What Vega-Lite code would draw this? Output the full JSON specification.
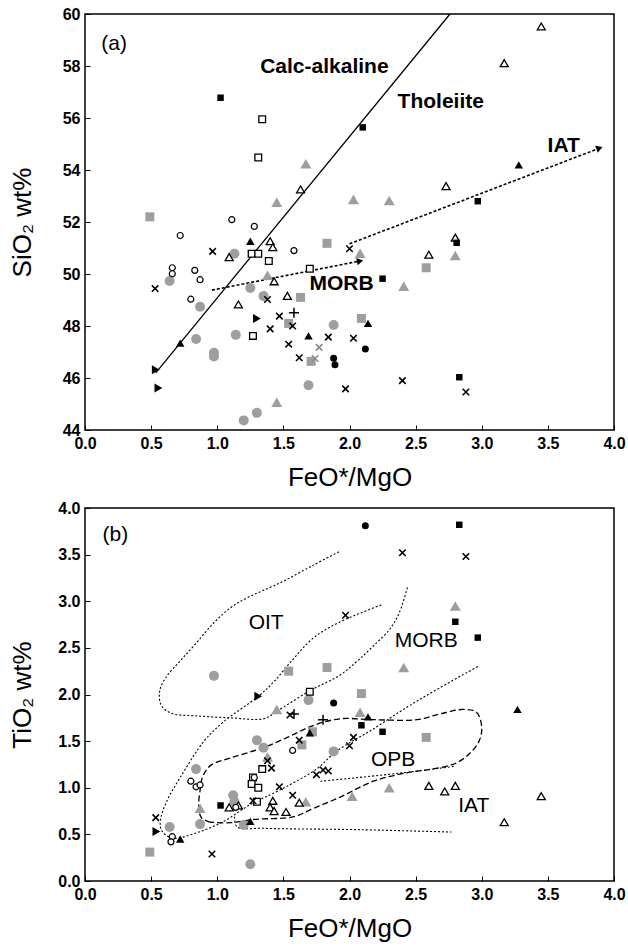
{
  "$schema": "https://vega.github.io/schema/vega-lite/v6.json",
  "background": "white",
  "padding": {"left": 8, "top": 5, "right": 3, "bottom": 5},
  "spacing": 78,
  "bounds": "flush",
  "config": {
    "view": {"stroke": "black", "strokeWidth": 1.5},
    "font": "Liberation Sans",
    "axis": {
      "domain": false, "grid": false, "tickColor": "black", "tickSize": -5, "tickWidth": 1,
      "labelFont": "Liberation Sans", "labelFontWeight": "bold", "labelFontSize": 16, "labelColor": "black",
      "labelPadding": 10, "labelFlush": false, "labelOverlap": false,
      "titleFont": "Liberation Sans", "titleFontSize": 26, "titleFontWeight": "normal", "titleColor": "black"
    },
    "axisY": {"titleX": -63, "titleBaseline": "middle"},
    "axisX": {"titlePadding": 13}
  },
  "datasets": {
    "pa": [
      {"x":0.49,"y":52.2,"t":"sq_g"},{"x":1.83,"y":51.18,"t":"sq_g"},{"x":1.63,"y":49.10,"t":"sq_g"},{"x":1.54,"y":48.10,"t":"sq_g"},{"x":1.71,"y":46.64,"t":"sq_g"},{"x":2.58,"y":50.24,"t":"sq_g"},{"x":2.09,"y":48.29,"t":"sq_g"},
      {"x":1.025,"y":56.78,"t":"sq_b"},{"x":2.10,"y":55.64,"t":"sq_b"},{"x":2.97,"y":52.80,"t":"sq_b"},{"x":2.25,"y":49.82,"t":"sq_b"},{"x":2.83,"y":46.03,"t":"sq_b"},{"x":2.81,"y":51.2,"t":"sq_b"},
      {"x":1.34,"y":55.95,"t":"sq_o"},{"x":1.31,"y":54.48,"t":"sq_o"},{"x":1.26,"y":50.78,"t":"sq_o"},{"x":1.31,"y":50.78,"t":"sq_o"},{"x":1.39,"y":50.50,"t":"sq_o"},{"x":1.70,"y":50.20,"t":"sq_o"},{"x":1.27,"y":47.62,"t":"sq_o"},
      {"x":1.67,"y":54.24,"t":"tri_g"},{"x":1.45,"y":52.76,"t":"tri_g"},{"x":1.38,"y":49.95,"t":"tri_g"},{"x":1.45,"y":45.07,"t":"tri_g"},{"x":2.03,"y":52.87,"t":"tri_g"},{"x":2.30,"y":52.83,"t":"tri_g"},{"x":2.08,"y":50.80,"t":"tri_g"},{"x":2.41,"y":49.53,"t":"tri_g"},{"x":2.80,"y":50.71,"t":"tri_g"},
      {"x":1.25,"y":51.26,"t":"tri_b"},{"x":0.72,"y":47.34,"t":"tri_b"},{"x":1.69,"y":47.62,"t":"tri_b"},{"x":2.14,"y":48.10,"t":"tri_b"},{"x":3.28,"y":54.2,"t":"tri_b"},
      {"x":1.40,"y":51.26,"t":"tri_o"},{"x":1.42,"y":51.03,"t":"tri_o"},{"x":1.09,"y":50.65,"t":"tri_o"},{"x":1.43,"y":49.72,"t":"tri_o"},{"x":1.53,"y":49.16,"t":"tri_o"},{"x":1.16,"y":48.83,"t":"tri_o"},{"x":1.63,"y":53.25,"t":"tri_o"},{"x":3.45,"y":59.52,"t":"tri_o"},{"x":3.17,"y":58.11,"t":"tri_o"},{"x":2.73,"y":53.38,"t":"tri_o"},{"x":2.60,"y":50.74,"t":"tri_o"},{"x":2.80,"y":51.4,"t":"tri_o"},
      {"x":1.11,"y":52.09,"t":"cir_o"},{"x":1.28,"y":51.83,"t":"cir_o"},{"x":0.72,"y":51.48,"t":"cir_o"},{"x":1.58,"y":50.90,"t":"cir_o"},{"x":0.66,"y":50.24,"t":"cir_o"},{"x":0.66,"y":50.01,"t":"cir_o"},{"x":0.83,"y":50.14,"t":"cir_o"},{"x":0.87,"y":49.78,"t":"cir_o"},{"x":0.80,"y":49.03,"t":"cir_o"},
      {"x":1.13,"y":50.78,"t":"cir_g"},{"x":0.64,"y":49.73,"t":"cir_g"},{"x":1.25,"y":49.46,"t":"cir_g"},{"x":1.35,"y":49.15,"t":"cir_g"},{"x":0.87,"y":48.74,"t":"cir_g"},{"x":1.88,"y":48.04,"t":"cir_g"},{"x":0.84,"y":47.50,"t":"cir_g"},{"x":1.14,"y":47.66,"t":"cir_g"},{"x":0.975,"y":46.97,"t":"cir_g"},{"x":0.975,"y":46.83,"t":"cir_g"},{"x":1.69,"y":45.72,"t":"cir_g"},{"x":1.30,"y":44.66,"t":"cir_g"},{"x":1.20,"y":44.37,"t":"cir_g"},
      {"x":1.88,"y":46.76,"t":"cir_b"},{"x":1.89,"y":46.51,"t":"cir_b"},{"x":2.12,"y":47.12,"t":"cir_b"},
      {"x":0.965,"y":50.87,"t":"x"},{"x":0.53,"y":49.44,"t":"x"},{"x":1.38,"y":49.02,"t":"x"},{"x":1.47,"y":48.38,"t":"x"},{"x":1.57,"y":48.0,"t":"x"},{"x":1.40,"y":47.89,"t":"x"},{"x":1.84,"y":47.57,"t":"x"},{"x":1.54,"y":47.30,"t":"x"},{"x":1.62,"y":46.78,"t":"x"},{"x":2.0,"y":50.97,"t":"x"},{"x":2.03,"y":47.53,"t":"x"},{"x":1.97,"y":45.58,"t":"x"},{"x":2.40,"y":45.90,"t":"x"},{"x":2.88,"y":45.46,"t":"x"},
      {"x":1.77,"y":47.18,"t":"x_g"},{"x":1.74,"y":46.75,"t":"x_g"},
      {"x":1.58,"y":48.51,"t":"plus"},
      {"x":1.30,"y":48.29,"t":"rtri"},{"x":0.535,"y":46.32,"t":"rtri"},{"x":0.555,"y":45.62,"t":"rtri"}
    ],
    "pb": [
      {"x":0.49,"y":0.31,"t":"sq_g"},{"x":1.54,"y":2.25,"t":"sq_g"},{"x":1.83,"y":2.29,"t":"sq_g"},{"x":1.72,"y":1.60,"t":"sq_g"},{"x":1.64,"y":1.46,"t":"sq_g"},{"x":2.09,"y":2.01,"t":"sq_g"},{"x":2.58,"y":1.54,"t":"sq_g"},
      {"x":2.83,"y":3.82,"t":"sq_b"},{"x":2.80,"y":2.78,"t":"sq_b"},{"x":2.97,"y":2.61,"t":"sq_b"},{"x":2.09,"y":1.67,"t":"sq_b"},{"x":2.25,"y":1.60,"t":"sq_b"},{"x":1.025,"y":0.81,"t":"sq_b"},
      {"x":1.70,"y":2.03,"t":"sq_o"},{"x":1.34,"y":1.20,"t":"sq_o"},{"x":1.27,"y":1.11,"t":"sq_o"},{"x":1.26,"y":1.04,"t":"sq_o"},{"x":1.31,"y":1.0,"t":"sq_o"},{"x":1.30,"y":0.85,"t":"sq_o"},
      {"x":2.80,"y":2.95,"t":"tri_g"},{"x":2.41,"y":2.29,"t":"tri_g"},{"x":1.45,"y":1.84,"t":"tri_g"},{"x":1.38,"y":1.33,"t":"tri_g"},{"x":1.67,"y":0.85,"t":"tri_g"},{"x":0.87,"y":0.78,"t":"tri_g"},{"x":2.08,"y":1.81,"t":"tri_g"},{"x":2.02,"y":0.91,"t":"tri_g"},{"x":2.30,"y":1.0,"t":"tri_g"},
      {"x":1.70,"y":1.59,"t":"tri_b"},{"x":1.25,"y":0.64,"t":"tri_b"},{"x":0.72,"y":0.45,"t":"tri_b"},{"x":2.14,"y":1.76,"t":"tri_b"},{"x":3.27,"y":1.84,"t":"tri_b"},
      {"x":1.62,"y":0.84,"t":"tri_o"},{"x":1.42,"y":0.86,"t":"tri_o"},{"x":1.40,"y":0.79,"t":"tri_o"},{"x":1.43,"y":0.75,"t":"tri_o"},{"x":1.52,"y":0.74,"t":"tri_o"},{"x":1.09,"y":0.79,"t":"tri_o"},{"x":1.16,"y":0.81,"t":"tri_o"},{"x":2.60,"y":1.02,"t":"tri_o"},{"x":2.72,"y":0.96,"t":"tri_o"},{"x":2.80,"y":1.02,"t":"tri_o"},{"x":3.17,"y":0.63,"t":"tri_o"},{"x":3.45,"y":0.91,"t":"tri_o"},
      {"x":1.57,"y":1.40,"t":"cir_o"},{"x":0.80,"y":1.07,"t":"cir_o"},{"x":0.84,"y":1.01,"t":"cir_o"},{"x":0.87,"y":1.03,"t":"cir_o"},{"x":1.28,"y":1.11,"t":"cir_o"},{"x":1.14,"y":0.79,"t":"cir_o"},{"x":0.66,"y":0.475,"t":"cir_o"},{"x":0.65,"y":0.42,"t":"cir_o"},
      {"x":0.975,"y":2.20,"t":"cir_g"},{"x":1.69,"y":1.94,"t":"cir_g"},{"x":1.88,"y":1.39,"t":"cir_g"},{"x":1.30,"y":1.51,"t":"cir_g"},{"x":1.35,"y":1.43,"t":"cir_g"},{"x":0.84,"y":1.20,"t":"cir_g"},{"x":1.12,"y":0.92,"t":"cir_g"},{"x":1.13,"y":0.85,"t":"cir_g"},{"x":0.87,"y":0.61,"t":"cir_g"},{"x":1.20,"y":0.60,"t":"cir_g"},{"x":0.64,"y":0.58,"t":"cir_g"},{"x":1.25,"y":0.18,"t":"cir_g"},
      {"x":2.12,"y":3.81,"t":"cir_b"},{"x":1.88,"y":1.91,"t":"cir_b"},
      {"x":2.40,"y":3.52,"t":"x"},{"x":2.88,"y":3.48,"t":"x"},{"x":1.97,"y":2.85,"t":"x"},{"x":1.55,"y":1.78,"t":"x"},{"x":1.62,"y":1.51,"t":"x"},{"x":1.38,"y":1.29,"t":"x"},{"x":1.41,"y":1.21,"t":"x"},{"x":1.75,"y":1.14,"t":"x"},{"x":1.80,"y":1.19,"t":"x"},{"x":1.84,"y":1.18,"t":"x"},{"x":1.47,"y":1.01,"t":"x"},{"x":1.57,"y":0.92,"t":"x"},{"x":1.27,"y":0.86,"t":"x"},{"x":0.535,"y":0.68,"t":"x"},{"x":0.96,"y":0.29,"t":"x"},{"x":2.03,"y":1.54,"t":"x"},{"x":2.0,"y":1.45,"t":"x"},
      {"x":1.58,"y":1.79,"t":"plus"},{"x":1.80,"y":1.73,"t":"plus"},
      {"x":1.31,"y":1.98,"t":"rtri"},{"x":0.54,"y":0.53,"t":"rtri"}
    ],
    "la": [
      {"c":"calc","o":1,"x":0.535,"y":46.2},{"c":"calc","o":2,"x":2.76,"y":60},
      {"c":"morb","o":1,"x":0.96,"y":49.38},{"c":"morb","o":2,"x":2.06,"y":50.48},
      {"c":"iat","o":1,"x":2.0,"y":51.16},{"c":"iat","o":2,"x":3.87,"y":54.8}
    ],
    "arr": [
      {"c":"morb","x":2.08,"y":50.5},
      {"c":"iat","x":3.89,"y":54.84}
    ],
    "ta": [
      {"x":0.22,"y":58.84,"label":"(a)"},
      {"x":1.81,"y":57.95,"label":"Calc-alkaline"},
      {"x":2.69,"y":56.62,"label":"Tholeiite"},
      {"x":3.62,"y":54.93,"label":"IAT"},
      {"x":1.94,"y":49.63,"label":"MORB"}
    ],
    "tb": [
      {"x":0.23,"y":3.71,"label":"(b)"},
      {"x":1.37,"y":2.77,"label":"OIT"},
      {"x":2.58,"y":2.57,"label":"MORB"},
      {"x":2.33,"y":1.30,"label":"OPB"},
      {"x":2.94,"y":0.80,"label":"IAT"}
    ],
    "lb": [
      {"c":"OIT","s":"dot","o":1,"x":1.92,"y":3.53},{"c":"OIT","s":"dot","o":2,"x":1.73,"y":3.39},{"c":"OIT","s":"dot","o":3,"x":1.48,"y":3.20},{"c":"OIT","s":"dot","o":4,"x":1.23,"y":3.04},{"c":"OIT","s":"dot","o":5,"x":1.10,"y":2.93},{"c":"OIT","s":"dot","o":6,"x":0.975,"y":2.77},{"c":"OIT","s":"dot","o":7,"x":0.84,"y":2.55},{"c":"OIT","s":"dot","o":8,"x":0.72,"y":2.36},{"c":"OIT","s":"dot","o":9,"x":0.61,"y":2.18},{"c":"OIT","s":"dot","o":10,"x":0.565,"y":2.04},{"c":"OIT","s":"dot","o":11,"x":0.575,"y":1.89},{"c":"OIT","s":"dot","o":12,"x":0.65,"y":1.80},{"c":"OIT","s":"dot","o":13,"x":0.85,"y":1.77},{"c":"OIT","s":"dot","o":14,"x":1.10,"y":1.75},{"c":"OIT","s":"dot","o":15,"x":1.35,"y":1.74},{"c":"OIT","s":"dot","o":16,"x":1.45,"y":1.82},{"c":"OIT","s":"dot","o":17,"x":1.70,"y":2.04},{"c":"OIT","s":"dot","o":18,"x":1.93,"y":2.21},{"c":"OIT","s":"dot","o":19,"x":2.06,"y":2.36},{"c":"OIT","s":"dot","o":20,"x":2.18,"y":2.52},{"c":"OIT","s":"dot","o":21,"x":2.31,"y":2.71},{"c":"OIT","s":"dot","o":22,"x":2.38,"y":2.89},{"c":"OIT","s":"dot","o":23,"x":2.44,"y":3.16},
      {"c":"MORB","s":"dot","o":1,"x":2.24,"y":2.96},{"c":"MORB","s":"dot","o":2,"x":1.93,"y":2.78},{"c":"MORB","s":"dot","o":3,"x":1.73,"y":2.61},{"c":"MORB","s":"dot","o":4,"x":1.58,"y":2.39},{"c":"MORB","s":"dot","o":5,"x":1.43,"y":2.14},{"c":"MORB","s":"dot","o":6,"x":1.31,"y":1.98},{"c":"MORB","s":"dot","o":7,"x":1.05,"y":1.71},{"c":"MORB","s":"dot","o":8,"x":0.90,"y":1.50},{"c":"MORB","s":"dot","o":9,"x":0.72,"y":1.11},{"c":"MORB","s":"dot","o":10,"x":0.62,"y":0.86},{"c":"MORB","s":"dot","o":11,"x":0.57,"y":0.65},{"c":"MORB","s":"dot","o":12,"x":0.58,"y":0.54},{"c":"MORB","s":"dot","o":13,"x":0.66,"y":0.46},{"c":"MORB","s":"dot","o":14,"x":0.85,"y":0.52},{"c":"MORB","s":"dot","o":15,"x":1.05,"y":0.64},{"c":"MORB","s":"dot","o":16,"x":1.25,"y":0.82},{"c":"MORB","s":"dot","o":17,"x":1.48,"y":0.98},{"c":"MORB","s":"dot","o":18,"x":1.75,"y":1.20},{"c":"MORB","s":"dot","o":19,"x":1.90,"y":1.39},{"c":"MORB","s":"dot","o":20,"x":2.18,"y":1.63},{"c":"MORB","s":"dot","o":21,"x":2.43,"y":1.86},{"c":"MORB","s":"dot","o":22,"x":2.68,"y":2.07},{"c":"MORB","s":"dot","o":23,"x":2.97,"y":2.30},
      {"c":"IATu","s":"dot","o":1,"x":1.78,"y":1.07},{"c":"IATu","s":"dot","o":2,"x":1.93,"y":1.09},{"c":"IATu","s":"dot","o":3,"x":2.40,"y":1.16},{"c":"IATu","s":"dot","o":4,"x":2.80,"y":1.23},
      {"c":"IATl","s":"dot","o":1,"x":1.13,"y":0.69},{"c":"IATl","s":"dot","o":2,"x":1.15,"y":0.58},{"c":"IATl","s":"dot","o":3,"x":1.35,"y":0.565},{"c":"IATl","s":"dot","o":4,"x":2.08,"y":0.55},{"c":"IATl","s":"dot","o":5,"x":2.77,"y":0.525},
      {"c":"OPB","s":"dash","o":1,"x":0.95,"y":0.63},{"c":"OPB","s":"dash","o":2,"x":0.88,"y":0.68},{"c":"OPB","s":"dash","o":3,"x":0.86,"y":0.80},{"c":"OPB","s":"dash","o":4,"x":0.87,"y":0.97},{"c":"OPB","s":"dash","o":5,"x":0.89,"y":1.12},{"c":"OPB","s":"dash","o":6,"x":0.95,"y":1.24},{"c":"OPB","s":"dash","o":7,"x":1.10,"y":1.32},{"c":"OPB","s":"dash","o":8,"x":1.33,"y":1.42},{"c":"OPB","s":"dash","o":9,"x":1.53,"y":1.54},{"c":"OPB","s":"dash","o":10,"x":1.73,"y":1.67},{"c":"OPB","s":"dash","o":11,"x":1.93,"y":1.74},{"c":"OPB","s":"dash","o":12,"x":2.18,"y":1.73},{"c":"OPB","s":"dash","o":13,"x":2.51,"y":1.73},{"c":"OPB","s":"dash","o":14,"x":2.68,"y":1.79},{"c":"OPB","s":"dash","o":15,"x":2.86,"y":1.84},{"c":"OPB","s":"dash","o":16,"x":2.96,"y":1.81},{"c":"OPB","s":"dash","o":17,"x":3.0,"y":1.65},{"c":"OPB","s":"dash","o":18,"x":2.98,"y":1.50},{"c":"OPB","s":"dash","o":19,"x":2.91,"y":1.37},{"c":"OPB","s":"dash","o":20,"x":2.80,"y":1.26},{"c":"OPB","s":"dash","o":21,"x":2.62,"y":1.20},{"c":"OPB","s":"dash","o":22,"x":2.43,"y":1.16},{"c":"OPB","s":"dash","o":23,"x":2.18,"y":1.07},{"c":"OPB","s":"dash","o":24,"x":1.93,"y":0.90},{"c":"OPB","s":"dash","o":25,"x":1.73,"y":0.78},{"c":"OPB","s":"dash","o":26,"x":1.58,"y":0.69},{"c":"OPB","s":"dash","o":27,"x":1.28,"y":0.66},{"c":"OPB","s":"dash","o":28,"x":1.10,"y":0.625},{"c":"OPB","s":"dash","o":29,"x":0.95,"y":0.63}
    ]
  },
  "vconcat": [
    {
      "width": 529, "height": 416,
      "encoding": {
        "x": {"field": "x", "type": "quantitative", "scale": {"domain": [0, 4], "nice": false},
              "axis": {"values": [0,0.5,1,1.5,2,2.5,3,3.5,4], "format": ".1f", "title": "FeO*/MgO"}},
        "y": {"field": "y", "type": "quantitative", "scale": {"domain": [44, 60], "nice": false, "zero": false},
              "axis": {"values": [44,46,48,50,52,54,56,58,60], "format": "d", "title": "SiO₂ wt%"}}
      },
      "layer": [
        {"data": {"name": "la"}, "transform": [{"filter": "datum.c == 'calc'"}], "mark": {"type": "line", "color": "black", "strokeWidth": 1.3}, "encoding": {"detail": {"field": "c"}, "order": {"field": "o"}}},
        {"data": {"name": "la"}, "transform": [{"filter": "datum.c != 'calc'"}], "mark": {"type": "line", "color": "black", "strokeWidth": 1.6, "strokeDash": [3, 2]}, "encoding": {"detail": {"field": "c"}, "order": {"field": "o"}}},
        {"data": {"name": "arr"}, "transform": [{"filter": "datum.c == 'morb'"}], "mark": {"type": "point", "shape": "triangle-right", "filled": true, "fill": "black", "strokeWidth": 0, "size": 55, "opacity": 1, "angle": 349}},
        {"data": {"name": "arr"}, "transform": [{"filter": "datum.c == 'iat'"}], "mark": {"type": "point", "shape": "triangle-right", "filled": true, "fill": "black", "strokeWidth": 0, "size": 55, "opacity": 1, "angle": 339}},
        {"data": {"name": "pa"}, "transform": [{"filter": "datum.t == 'cir_g'"}], "mark": {"type": "point", "shape": "circle", "filled": true, "fill": "#9e9e9e", "strokeWidth": 0, "size": 100, "opacity": 1}},
        {"data": {"name": "pa"}, "transform": [{"filter": "datum.t == 'sq_g'"}], "mark": {"type": "point", "shape": "square", "filled": true, "fill": "#9e9e9e", "strokeWidth": 0, "size": 81, "opacity": 1}},
        {"data": {"name": "pa"}, "transform": [{"filter": "datum.t == 'tri_g'"}], "mark": {"type": "point", "shape": "triangle-up", "filled": true, "fill": "#9e9e9e", "strokeWidth": 0, "size": 121, "opacity": 1}},
        {"data": {"name": "pa"}, "transform": [{"filter": "datum.t == 'sq_o'"}], "mark": {"type": "point", "shape": "square", "fill": "white", "stroke": "black", "strokeWidth": 1.3, "size": 45, "opacity": 1}},
        {"data": {"name": "pa"}, "transform": [{"filter": "datum.t == 'tri_o'"}], "mark": {"type": "point", "shape": "triangle-up", "fill": "white", "stroke": "black", "strokeWidth": 1.3, "size": 64, "opacity": 1}},
        {"data": {"name": "pa"}, "transform": [{"filter": "datum.t == 'cir_o'"}], "mark": {"type": "point", "shape": "circle", "fill": "white", "stroke": "black", "strokeWidth": 1.2, "size": 36, "opacity": 1}},
        {"data": {"name": "pa"}, "transform": [{"filter": "datum.t == 'sq_b'"}], "mark": {"type": "point", "shape": "square", "filled": true, "fill": "black", "strokeWidth": 0, "size": 42, "opacity": 1}},
        {"data": {"name": "pa"}, "transform": [{"filter": "datum.t == 'tri_b'"}], "mark": {"type": "point", "shape": "triangle-up", "filled": true, "fill": "black", "strokeWidth": 0, "size": 72, "opacity": 1}},
        {"data": {"name": "pa"}, "transform": [{"filter": "datum.t == 'cir_b'"}], "mark": {"type": "point", "shape": "circle", "filled": true, "fill": "black", "strokeWidth": 0, "size": 49, "opacity": 1}},
        {"data": {"name": "pa"}, "transform": [{"filter": "datum.t == 'rtri'"}], "mark": {"type": "point", "shape": "triangle-right", "filled": true, "fill": "black", "strokeWidth": 0, "size": 81, "opacity": 1}},
        {"data": {"name": "pa"}, "transform": [{"filter": "datum.t == 'x'"}], "mark": {"type": "point", "shape": "M-1,-1L1,1M-1,1L1,-1", "filled": false, "fill": "transparent", "stroke": "black", "strokeWidth": 1.6, "size": 42, "opacity": 1}},
        {"data": {"name": "pa"}, "transform": [{"filter": "datum.t == 'x_g'"}], "mark": {"type": "point", "shape": "M-1,-1L1,1M-1,1L1,-1", "filled": false, "fill": "transparent", "stroke": "#8a8a8a", "strokeWidth": 1.6, "size": 42, "opacity": 1}},
        {"data": {"name": "pa"}, "transform": [{"filter": "datum.t == 'plus'"}], "mark": {"type": "point", "shape": "M0,-1L0,1M-1,0L1,0", "filled": false, "fill": "transparent", "stroke": "black", "strokeWidth": 1.5, "size": 100, "opacity": 1}},
        {"data": {"name": "ta"}, "transform": [{"filter": "datum.label == '(a)'"}], "mark": {"type": "text", "font": "Liberation Sans", "fontSize": 21, "align": "center", "baseline": "middle", "color": "black"}, "encoding": {"text": {"field": "label"}}},
        {"data": {"name": "ta"}, "transform": [{"filter": "datum.label != '(a)'"}], "mark": {"type": "text", "font": "Liberation Sans", "fontSize": 21, "fontWeight": "bold", "align": "center", "baseline": "middle", "color": "black"}, "encoding": {"text": {"field": "label"}}}
      ]
    },
    {
      "width": 529, "height": 373,
      "encoding": {
        "x": {"field": "x", "type": "quantitative", "scale": {"domain": [0, 4], "nice": false},
              "axis": {"values": [0,0.5,1,1.5,2,2.5,3,3.5,4], "format": ".1f", "title": "FeO*/MgO"}},
        "y": {"field": "y", "type": "quantitative", "scale": {"domain": [0, 4], "nice": false},
              "axis": {"values": [0,0.5,1,1.5,2,2.5,3,3.5,4], "format": ".1f", "title": "TiO₂ wt%"}}
      },
      "layer": [
        {"data": {"name": "lb"}, "transform": [{"filter": "datum.s == 'dot'"}], "mark": {"type": "line", "color": "black", "strokeWidth": 1.1, "strokeDash": [2, 2], "interpolate": "catmull-rom"}, "encoding": {"detail": {"field": "c"}, "order": {"field": "o"}}},
        {"data": {"name": "lb"}, "transform": [{"filter": "datum.s == 'dash'"}], "mark": {"type": "line", "color": "black", "strokeWidth": 1.3, "strokeDash": [6, 3], "interpolate": "catmull-rom"}, "encoding": {"detail": {"field": "c"}, "order": {"field": "o"}}},
        {"data": {"name": "pb"}, "transform": [{"filter": "datum.t == 'cir_g'"}], "mark": {"type": "point", "shape": "circle", "filled": true, "fill": "#9e9e9e", "strokeWidth": 0, "size": 100, "opacity": 1}},
        {"data": {"name": "pb"}, "transform": [{"filter": "datum.t == 'sq_g'"}], "mark": {"type": "point", "shape": "square", "filled": true, "fill": "#9e9e9e", "strokeWidth": 0, "size": 81, "opacity": 1}},
        {"data": {"name": "pb"}, "transform": [{"filter": "datum.t == 'tri_g'"}], "mark": {"type": "point", "shape": "triangle-up", "filled": true, "fill": "#9e9e9e", "strokeWidth": 0, "size": 121, "opacity": 1}},
        {"data": {"name": "pb"}, "transform": [{"filter": "datum.t == 'sq_o'"}], "mark": {"type": "point", "shape": "square", "fill": "white", "stroke": "black", "strokeWidth": 1.3, "size": 45, "opacity": 1}},
        {"data": {"name": "pb"}, "transform": [{"filter": "datum.t == 'tri_o'"}], "mark": {"type": "point", "shape": "triangle-up", "fill": "white", "stroke": "black", "strokeWidth": 1.3, "size": 64, "opacity": 1}},
        {"data": {"name": "pb"}, "transform": [{"filter": "datum.t == 'cir_o'"}], "mark": {"type": "point", "shape": "circle", "fill": "white", "stroke": "black", "strokeWidth": 1.2, "size": 36, "opacity": 1}},
        {"data": {"name": "pb"}, "transform": [{"filter": "datum.t == 'sq_b'"}], "mark": {"type": "point", "shape": "square", "filled": true, "fill": "black", "strokeWidth": 0, "size": 42, "opacity": 1}},
        {"data": {"name": "pb"}, "transform": [{"filter": "datum.t == 'tri_b'"}], "mark": {"type": "point", "shape": "triangle-up", "filled": true, "fill": "black", "strokeWidth": 0, "size": 72, "opacity": 1}},
        {"data": {"name": "pb"}, "transform": [{"filter": "datum.t == 'cir_b'"}], "mark": {"type": "point", "shape": "circle", "filled": true, "fill": "black", "strokeWidth": 0, "size": 49, "opacity": 1}},
        {"data": {"name": "pb"}, "transform": [{"filter": "datum.t == 'rtri'"}], "mark": {"type": "point", "shape": "triangle-right", "filled": true, "fill": "black", "strokeWidth": 0, "size": 81, "opacity": 1}},
        {"data": {"name": "pb"}, "transform": [{"filter": "datum.t == 'x'"}], "mark": {"type": "point", "shape": "M-1,-1L1,1M-1,1L1,-1", "filled": false, "fill": "transparent", "stroke": "black", "strokeWidth": 1.6, "size": 42, "opacity": 1}},
        {"data": {"name": "pb"}, "transform": [{"filter": "datum.t == 'plus'"}], "mark": {"type": "point", "shape": "M0,-1L0,1M-1,0L1,0", "filled": false, "fill": "transparent", "stroke": "black", "strokeWidth": 1.5, "size": 100, "opacity": 1}},
        {"data": {"name": "tb"}, "mark": {"type": "text", "font": "Liberation Sans", "fontSize": 21, "align": "center", "baseline": "middle", "color": "black"}, "encoding": {"text": {"field": "label"}}}
      ]
    }
  ]
}
